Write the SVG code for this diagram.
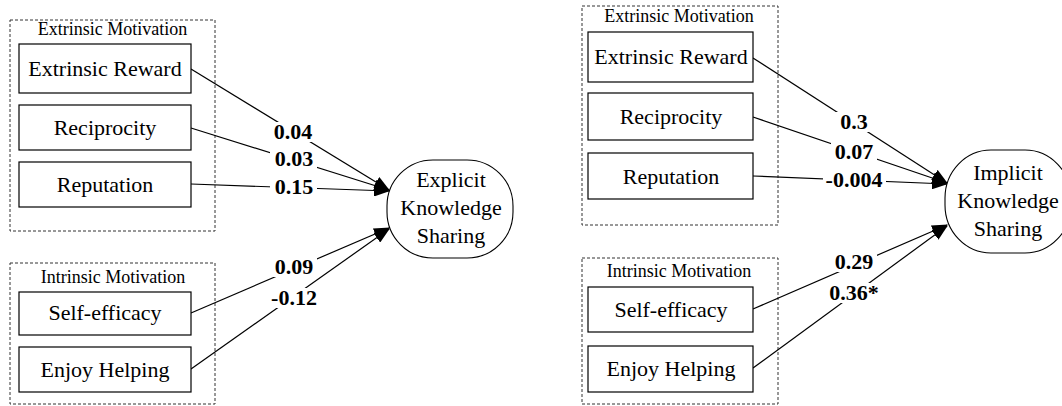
<svg xmlns="http://www.w3.org/2000/svg" width="1062" height="406" viewBox="0 0 1062 406">
<style>
.grp{fill:none;stroke:#333;stroke-width:1;stroke-dasharray:3,2}
.box{fill:#fff;stroke:#000;stroke-width:1.2}
.term{fill:#fff;stroke:#000;stroke-width:1.1}
.ln{fill:none;stroke:#000;stroke-width:1.2;marker-end:url(#ah)}
.bg{fill:#fff}
</style>
<defs>
<marker id="ah" markerUnits="userSpaceOnUse" markerWidth="16" markerHeight="12" refX="15" refY="6" orient="auto">
<path d="M0,0 L16,6 L0,12 Z" fill="#000"/>
</marker>
</defs>
<rect width="1062" height="406" fill="#fff"/>

<g font-family="Liberation Serif, Times New Roman, serif" font-size="22" text-anchor="middle" fill="#000">

<!-- groups -->
<g id="left-extrinsic-group" font-size="18">
<rect class="grp" x="10" y="20" width="205" height="211"/>
<text x="112.5" y="35">Extrinsic Motivation</text>
</g>
<g id="left-intrinsic-group" font-size="18">
<rect class="grp" x="10" y="263" width="205" height="141"/>
<text x="113" y="283">Intrinsic Motivation</text>
</g>
<g id="right-extrinsic-group" font-size="18">
<rect class="grp" x="582" y="6" width="196" height="219"/>
<text x="679" y="22">Extrinsic Motivation</text>
</g>
<g id="right-intrinsic-group" font-size="18">
<rect class="grp" x="582" y="258" width="196" height="146"/>
<text x="679" y="277">Intrinsic Motivation</text>
</g>

<!-- connectors -->
<g id="connectors">
<line class="ln" x1="191" y1="69" x2="389" y2="190"/>
<line class="ln" x1="191" y1="128" x2="389" y2="190"/>
<line class="ln" x1="191" y1="184" x2="389" y2="191"/>
<line class="ln" x1="191" y1="313" x2="389" y2="228"/>
<line class="ln" x1="191" y1="369" x2="389" y2="229"/>
<line class="ln" x1="753" y1="58" x2="947" y2="183"/>
<line class="ln" x1="753" y1="117" x2="947" y2="183"/>
<line class="ln" x1="753" y1="176" x2="947" y2="184"/>
<line class="ln" x1="753" y1="309" x2="947" y2="225"/>
<line class="ln" x1="753" y1="368" x2="947" y2="226"/>
<rect class="bg" x="270" y="122" width="47" height="20"/>
<rect class="bg" x="270" y="149" width="47" height="20"/>
<rect class="bg" x="270" y="177" width="47" height="20"/>
<rect class="bg" x="270" y="257" width="47" height="20"/>
<rect class="bg" x="267" y="288" width="54" height="20"/>
<rect class="bg" x="835" y="112" width="38" height="20"/>
<rect class="bg" x="831" y="142" width="46" height="20"/>
<rect class="bg" x="823" y="170" width="63" height="20"/>
<rect class="bg" x="831" y="252" width="46" height="20"/>
<rect class="bg" x="826" y="283" width="56" height="20"/>
<g font-weight="bold">
<text x="293" y="139">0.04</text>
<text x="294" y="166">0.03</text>
<text x="294" y="194">0.15</text>
<text x="294" y="274">0.09</text>
<text x="294" y="305">-0.12</text>
<text x="854" y="129">0.3</text>
<text x="854" y="159">0.07</text>
<text x="854" y="187">-0.004</text>
<text x="854" y="269">0.29</text>
<text x="854" y="300">0.36*</text>
</g>
</g>

<!-- left nodes -->
<g id="l-extrinsic-reward"><rect class="box" x="19" y="44" width="172" height="49"/><text x="105" y="76">Extrinsic Reward</text></g>
<g id="l-reciprocity"><rect class="box" x="19" y="105" width="172" height="45"/><text x="105" y="135">Reciprocity</text></g>
<g id="l-reputation"><rect class="box" x="19" y="162" width="172" height="45"/><text x="105" y="192">Reputation</text></g>
<g id="l-self-efficacy"><rect class="box" x="19" y="292" width="172" height="43"/><text x="105" y="320">Self-efficacy</text></g>
<g id="l-enjoy-helping"><rect class="box" x="19" y="347" width="172" height="45"/><text x="105" y="377">Enjoy Helping</text></g>
<g id="explicit-knowledge-sharing">
<rect class="term" x="387" y="160" width="126" height="98" rx="46" ry="46"/>
<text x="451" y="187">Explicit</text>
<text x="451" y="215">Knowledge</text>
<text x="451" y="243">Sharing</text>
</g>

<!-- right nodes -->
<g id="r-extrinsic-reward"><rect class="box" x="588" y="32" width="165" height="50"/><text x="671" y="64">Extrinsic Reward</text></g>
<g id="r-reciprocity"><rect class="box" x="588" y="93" width="165" height="47"/><text x="671" y="124">Reciprocity</text></g>
<g id="r-reputation"><rect class="box" x="588" y="153" width="165" height="46"/><text x="671" y="184">Reputation</text></g>
<g id="r-self-efficacy"><rect class="box" x="588" y="287" width="165" height="45"/><text x="671" y="317">Self-efficacy</text></g>
<g id="r-enjoy-helping"><rect class="box" x="588" y="346" width="165" height="46"/><text x="671" y="376">Enjoy Helping</text></g>
<g id="implicit-knowledge-sharing">
<rect class="term" x="945" y="150" width="126" height="103" rx="46" ry="48"/>
<text x="1008" y="180">Implicit</text>
<text x="1008" y="208">Knowledge</text>
<text x="1008" y="236">Sharing</text>
</g>
</g>
</svg>
